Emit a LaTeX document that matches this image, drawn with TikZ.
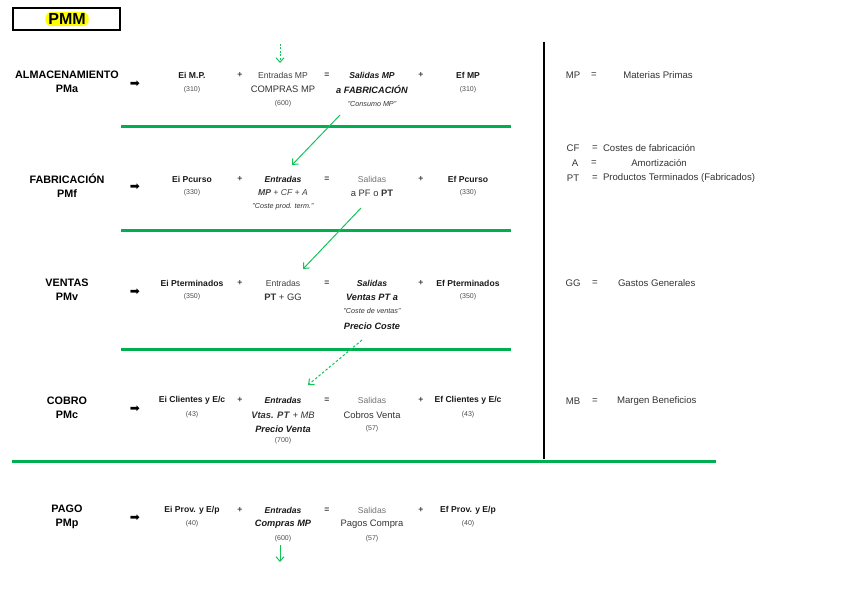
\documentclass[tikz,border=0pt]{standalone}
\usepackage{fontspec}
\setmainfont{Liberation Sans}
\newfontfamily\dejavu{DejaVu Sans}
\usetikzlibrary{arrows.meta}
\definecolor{pgreen}{RGB}{0,176,80}
\definecolor{agreen}{RGB}{20,195,90}
\definecolor{hyel}{RGB}{255,255,0}
\tikzset{
  every node/.style={inner sep=0pt, outer sep=0pt},
  head/.style={font=\fontsize{10.8}{13}\selectfont\bfseries, align=center},
  bt/.style={font=\fontsize{8.6}{10}\selectfont\bfseries, text=black!90},
  bi/.style={font=\fontsize{8.6}{10}\selectfont\bfseries\itshape, text=black!90},
  bibig/.style={font=\fontsize{9.2}{11}\selectfont\bfseries\itshape, text=black!90},
  rt/.style={font=\fontsize{8.6}{10}\selectfont, text=black!75},
  gt/.style={font=\fontsize{8.6}{10}\selectfont, text=black!55},
  big/.style={font=\fontsize{9.4}{11}\selectfont, text=black!80},
  num/.style={font=\fontsize{7}{8}\selectfont, text=black!70},
  qt/.style={font=\fontsize{7.2}{8}\selectfont\itshape, text=black!80},
  op/.style={font=\fontsize{8.6}{9}\selectfont\bfseries, text=black!75},
  leg/.style={font=\fontsize{9.6}{11}\selectfont, text=black!80},
  bigarrow/.style={font=\dejavu\fontsize{12}{12}\selectfont},
  gline/.style={draw=pgreen, line width=3pt},
  garrow/.style={draw=agreen, line width=1pt, -{Straight Barb[length=4.5pt,width=8pt]}},
}
\begin{document}
\begin{tikzpicture}[x=1pt,y=-1pt]
\useasboundingbox (0,0) rectangle (848,599);
% title
\node[draw=black, line width=2.5pt, minimum width=107pt, minimum height=22pt] (title) at (66.5,19) {};
\node[fill=hyel, rounded corners=6pt, inner xsep=3pt, inner ysep=1.5pt, font=\fontsize{16}{18}\selectfont\bfseries] (pmm) at (67,19) {PMM};

% headings
\foreach \n/\y/\a/\b in {h1/82/ALMACENAMIENTO/PMa, h2/186/FABRICACIÓN/PMf, h3/290/VENTAS/PMv, h4/408/COBRO/PMc, h5/517/PAGO/PMp}{
  \node[head] (\n) at (67,\y) {\a\\[1pt]\b};
}
\foreach \n/\y in {ar1/84, ar2/187, ar3/292, ar4/409, ar5/518}{
  \node[bigarrow] (\n) at (135,\y) {➡};
}

% row 1
\node[bt] (r1a) at (192,75) {Ei M.P.};
\node[num] (r1an) at (192,90) {(310)};
\node[op] (r1p) at (240,75) {+};
\node[rt] (r1b) at (283,75) {Entradas MP};
\node[big] (r1bb) at (283,89) {COMPRAS MP};
\node[num] (r1bn) at (283,104) {(600)};
\node[op] (r1e) at (327,75) {=};
\node[bi] (r1c) at (372,75) {Salidas MP};
\node[bibig] (r1cc) at (372,89) {a FABRICACIÓN};
\node[qt] (r1cq) at (372,104) {"Consumo MP"};
\node[op] (r1q) at (421,75) {+};
\node[bt] (r1d) at (468,75) {Ef MP};
\node[num] (r1dn) at (468,90) {(310)};

% row 2
\node[bt] (r2a) at (192,179) {Ei Pcurso};
\node[num] (r2an) at (192,193) {(330)};
\node[op] (r2p) at (240,179) {+};
\node[bi] (r2b) at (283,179) {Entradas};
\node[rt] (r2bb) at (283,193) {\textbf{\textit{MP}} \textit{+ CF + A}};
\node[qt] (r2bq) at (283,207) {"Coste prod. term."};
\node[op] (r2e) at (327,179) {=};
\node[gt] (r2c) at (372,179) {Salidas};
\node[big] (r2cc) at (372,193) {a PF o \textbf{PT}};
\node[op] (r2q) at (421,179) {+};
\node[bt] (r2d) at (468,179) {Ef Pcurso};
\node[num] (r2dn) at (468,193) {(330)};

% row 3
\node[bt] (r3a) at (192,283) {Ei Pterminados};
\node[num] (r3an) at (192,297) {(350)};
\node[op] (r3p) at (240,283) {+};
\node[rt] (r3b) at (283,283) {Entradas};
\node[big] (r3bb) at (283,297) {\textbf{PT} + GG};
\node[op] (r3e) at (327,283) {=};
\node[bi] (r3c) at (372,283) {Salidas};
\node[bibig] (r3cc) at (372,297) {Ventas PT a};
\node[qt] (r3cq) at (372,311) {"Coste de ventas"};
\node[bibig] (r3cp) at (372,326) {Precio Coste};
\node[op] (r3q) at (421,283) {+};
\node[bt] (r3d) at (468,283) {Ef Pterminados};
\node[num] (r3dn) at (468,297) {(350)};

% row 4
\node[bt] (r4a) at (192,400) {Ei Clientes y E/c};
\node[num] (r4an) at (192,415) {(43)};
\node[op] (r4p) at (240,400) {+};
\node[bi] (r4b) at (283,400) {Entradas};
\node[big] (r4bb) at (283,415) {\textbf{\textit{Vtas. PT}} \textit{+ MB}};
\node[bibig] (r4bp) at (283,429) {Precio Venta};
\node[num] (r4bn) at (283,441) {(700)};
\node[op] (r4e) at (327,400) {=};
\node[gt] (r4c) at (372,400) {Salidas};
\node[big] (r4cc) at (372,415) {Cobros Venta};
\node[num] (r4cn) at (372,429) {(57)};
\node[op] (r4q) at (421,400) {+};
\node[bt] (r4d) at (468,400) {Ef Clientes y E/c};
\node[num] (r4dn) at (468,415) {(43)};

% row 5
\node[bt] (r5a) at (192,510) {Ei Prov. y E/p};
\node[num] (r5an) at (192,524) {(40)};
\node[op] (r5p) at (240,510) {+};
\node[bi] (r5b) at (283,510) {Entradas};
\node[bibig] (r5bb) at (283,524) {Compras MP};
\node[num] (r5bn) at (283,539) {(600)};
\node[op] (r5e) at (327,510) {=};
\node[gt] (r5c) at (372,510) {Salidas};
\node[big] (r5cc) at (372,524) {Pagos Compra};
\node[num] (r5cn) at (372,539) {(57)};
\node[op] (r5q) at (421,510) {+};
\node[bt] (r5d) at (468,510) {Ef Prov. y E/p};
\node[num] (r5dn) at (468,524) {(40)};

% separators
\coordinate (s1a) at (121,127); \coordinate (s1b) at (511,127);
\coordinate (s2a) at (121,230); \coordinate (s2b) at (511,230);
\coordinate (s3a) at (121,349); \coordinate (s3b) at (511,349);
\coordinate (s4a) at (12,461);  \coordinate (s4b) at (716,461);
\draw[gline] (s1a) -- (s1b);
\draw[gline] (s2a) -- (s2b);
\draw[gline] (s3a) -- (s3b);
\draw[gline] (s4a) -- (s4b);
\coordinate (va) at (544,42); \coordinate (vb) at (544,459);
\draw[line width=2pt, black] (va) -- (vb);

% flow arrows
\coordinate (f1a) at (280,44);  \coordinate (f1b) at (280,63);
\coordinate (f2a) at (340,115); \coordinate (f2b) at (292,165);
\coordinate (f3a) at (361,208); \coordinate (f3b) at (303,269);
\coordinate (f4a) at (362,340); \coordinate (f4b) at (308,385);
\coordinate (f5a) at (280,545); \coordinate (f5b) at (280,562);
\draw[garrow, dash pattern=on 2pt off 1.5pt] (f1a) -- (f1b);
\draw[garrow] (f2a) -- (f2b);
\draw[garrow] (f3a) -- (f3b);
\draw[garrow, dash pattern=on 2.5pt off 2pt] (f4a) -- (f4b);
\draw[garrow] (f5a) -- (f5b);

% legend
\node[leg] (lmp) at (573,75) {MP};
\node[leg] (lmpe) at (594,75) {=};
\node[leg] (lmpt) at (658,75) {Materias Primas};
\node[leg] (lcf) at (573,148) {CF};
\node[leg] (lcfe) at (595,148) {=};
\node[leg, anchor=west] (lcft) at (603,148) {Costes de fabricación};
\node[leg] (la) at (575,163) {A};
\node[leg] (lae) at (594,163) {=};
\node[leg] (lat) at (659,163) {Amortización};
\node[leg] (lpt) at (573,178) {PT};
\node[leg] (lpte) at (595,178) {=};
\node[leg, anchor=west] (lptt) at (603,178) {Productos Terminados (Fabricados)};
\node[leg] (lgg) at (573,283) {GG};
\node[leg] (lgge) at (595,283) {=};
\node[leg, anchor=west] (lggt) at (618,283) {Gastos Generales};
\node[leg] (lmb) at (573,401) {MB};
\node[leg] (lmbe) at (595,401) {=};
\node[leg, anchor=west] (lmbt) at (617,401) {Margen Beneficios};
\end{tikzpicture}
\end{document}
